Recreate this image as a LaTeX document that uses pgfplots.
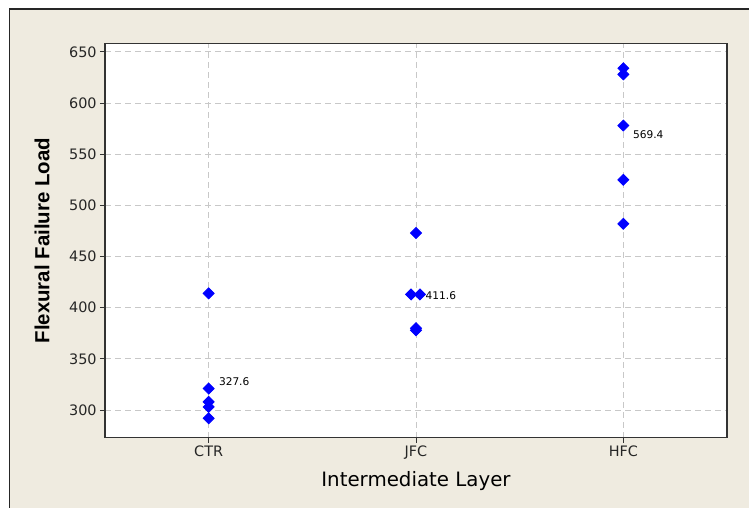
\documentclass[border=0pt]{standalone}
\usepackage{pgfplots}
\pgfplotsset{compat=1.18}
\usepackage{fontspec}
\setmainfont{DejaVu Sans}
\newfontfamily\arialbold{Liberation Sans}
\definecolor{beige}{RGB}{239,235,224}
\definecolor{gridc}{RGB}{200,200,200}
\definecolor{mblue}{RGB}{0,0,255}
\begin{document}
\begin{tikzpicture}[x=1pt,y=1pt]
\path[use as bounding box] (0,0) rectangle (374.5,254);
\fill[white] (0,0) rectangle (374.5,254);
\fill[beige] (4.75,0) rectangle (374.5,249.5);
\draw[black!85, line width=0.75pt] (4.75,0) -- (4.75,249.5) -- (374.5,249.5);
\begin{axis}[
  at={(52.5pt,35.15pt)}, anchor=south west,
  scale only axis, width=311pt, height=197pt,
  xmin=0.5, xmax=3.5, ymin=273, ymax=658,
  xtick={1,2,3}, xticklabels={CTR,JFC,HFC},
  ytick={300,350,400,450,500,550,600,650},
  xtick pos=bottom, ytick pos=left,
  tick align=outside, major tick length=2.5pt,
  tick style={black!80, line width=0.5pt},
  axis background/.style={fill=white},
  axis line style={black!80, line width=0.6pt},
  grid=major,
  major grid style={gridc, line width=0.5pt, dash pattern=on 3pt off 2pt},
  /pgf/number format/assume math mode=true,
  ticklabel style={font=\fontsize{7.2}{8.6}\selectfont, text=black!85},
  yticklabel style={inner sep=1.5pt},
  xticklabel style={inner sep=1.5pt},
  xlabel={Intermediate Layer},
  ylabel={Flexural Failure Load},
  xlabel style={at={(axis description cs:0.5,-0.109)}, anchor=center, font=\fontsize{9.9}{12}\selectfont},
  ylabel style={at={(axis description cs:-0.101,0.5)}, anchor=center, font=\arialbold\bfseries\fontsize{10.2}{12}\selectfont},
  clip=false,
]
\addplot[only marks, mark=square*, mark size=1.95pt, mark options={rotate=45, fill=mblue, draw=mblue}]
  coordinates {
  (1,414) (1,321) (1,308) (1,303) (1,292)
  (2,473) (1.976,413) (2.019,413) (2,380) (2,378)
  (3,634) (3,628) (3,578) (3,525) (3,482)
  };
\node[anchor=west, inner sep=0pt, font=\fontsize{5.3}{6}\selectfont] at (axis cs:1.048,327.6) {327.6};
\node[anchor=west, inner sep=0pt, font=\fontsize{5.3}{6}\selectfont] at (axis cs:2.045,411.6) {411.6};
\node[anchor=west, inner sep=0pt, font=\fontsize{5.3}{6}\selectfont] at (axis cs:3.045,569.4) {569.4};
\end{axis}
\end{tikzpicture}
\end{document}
